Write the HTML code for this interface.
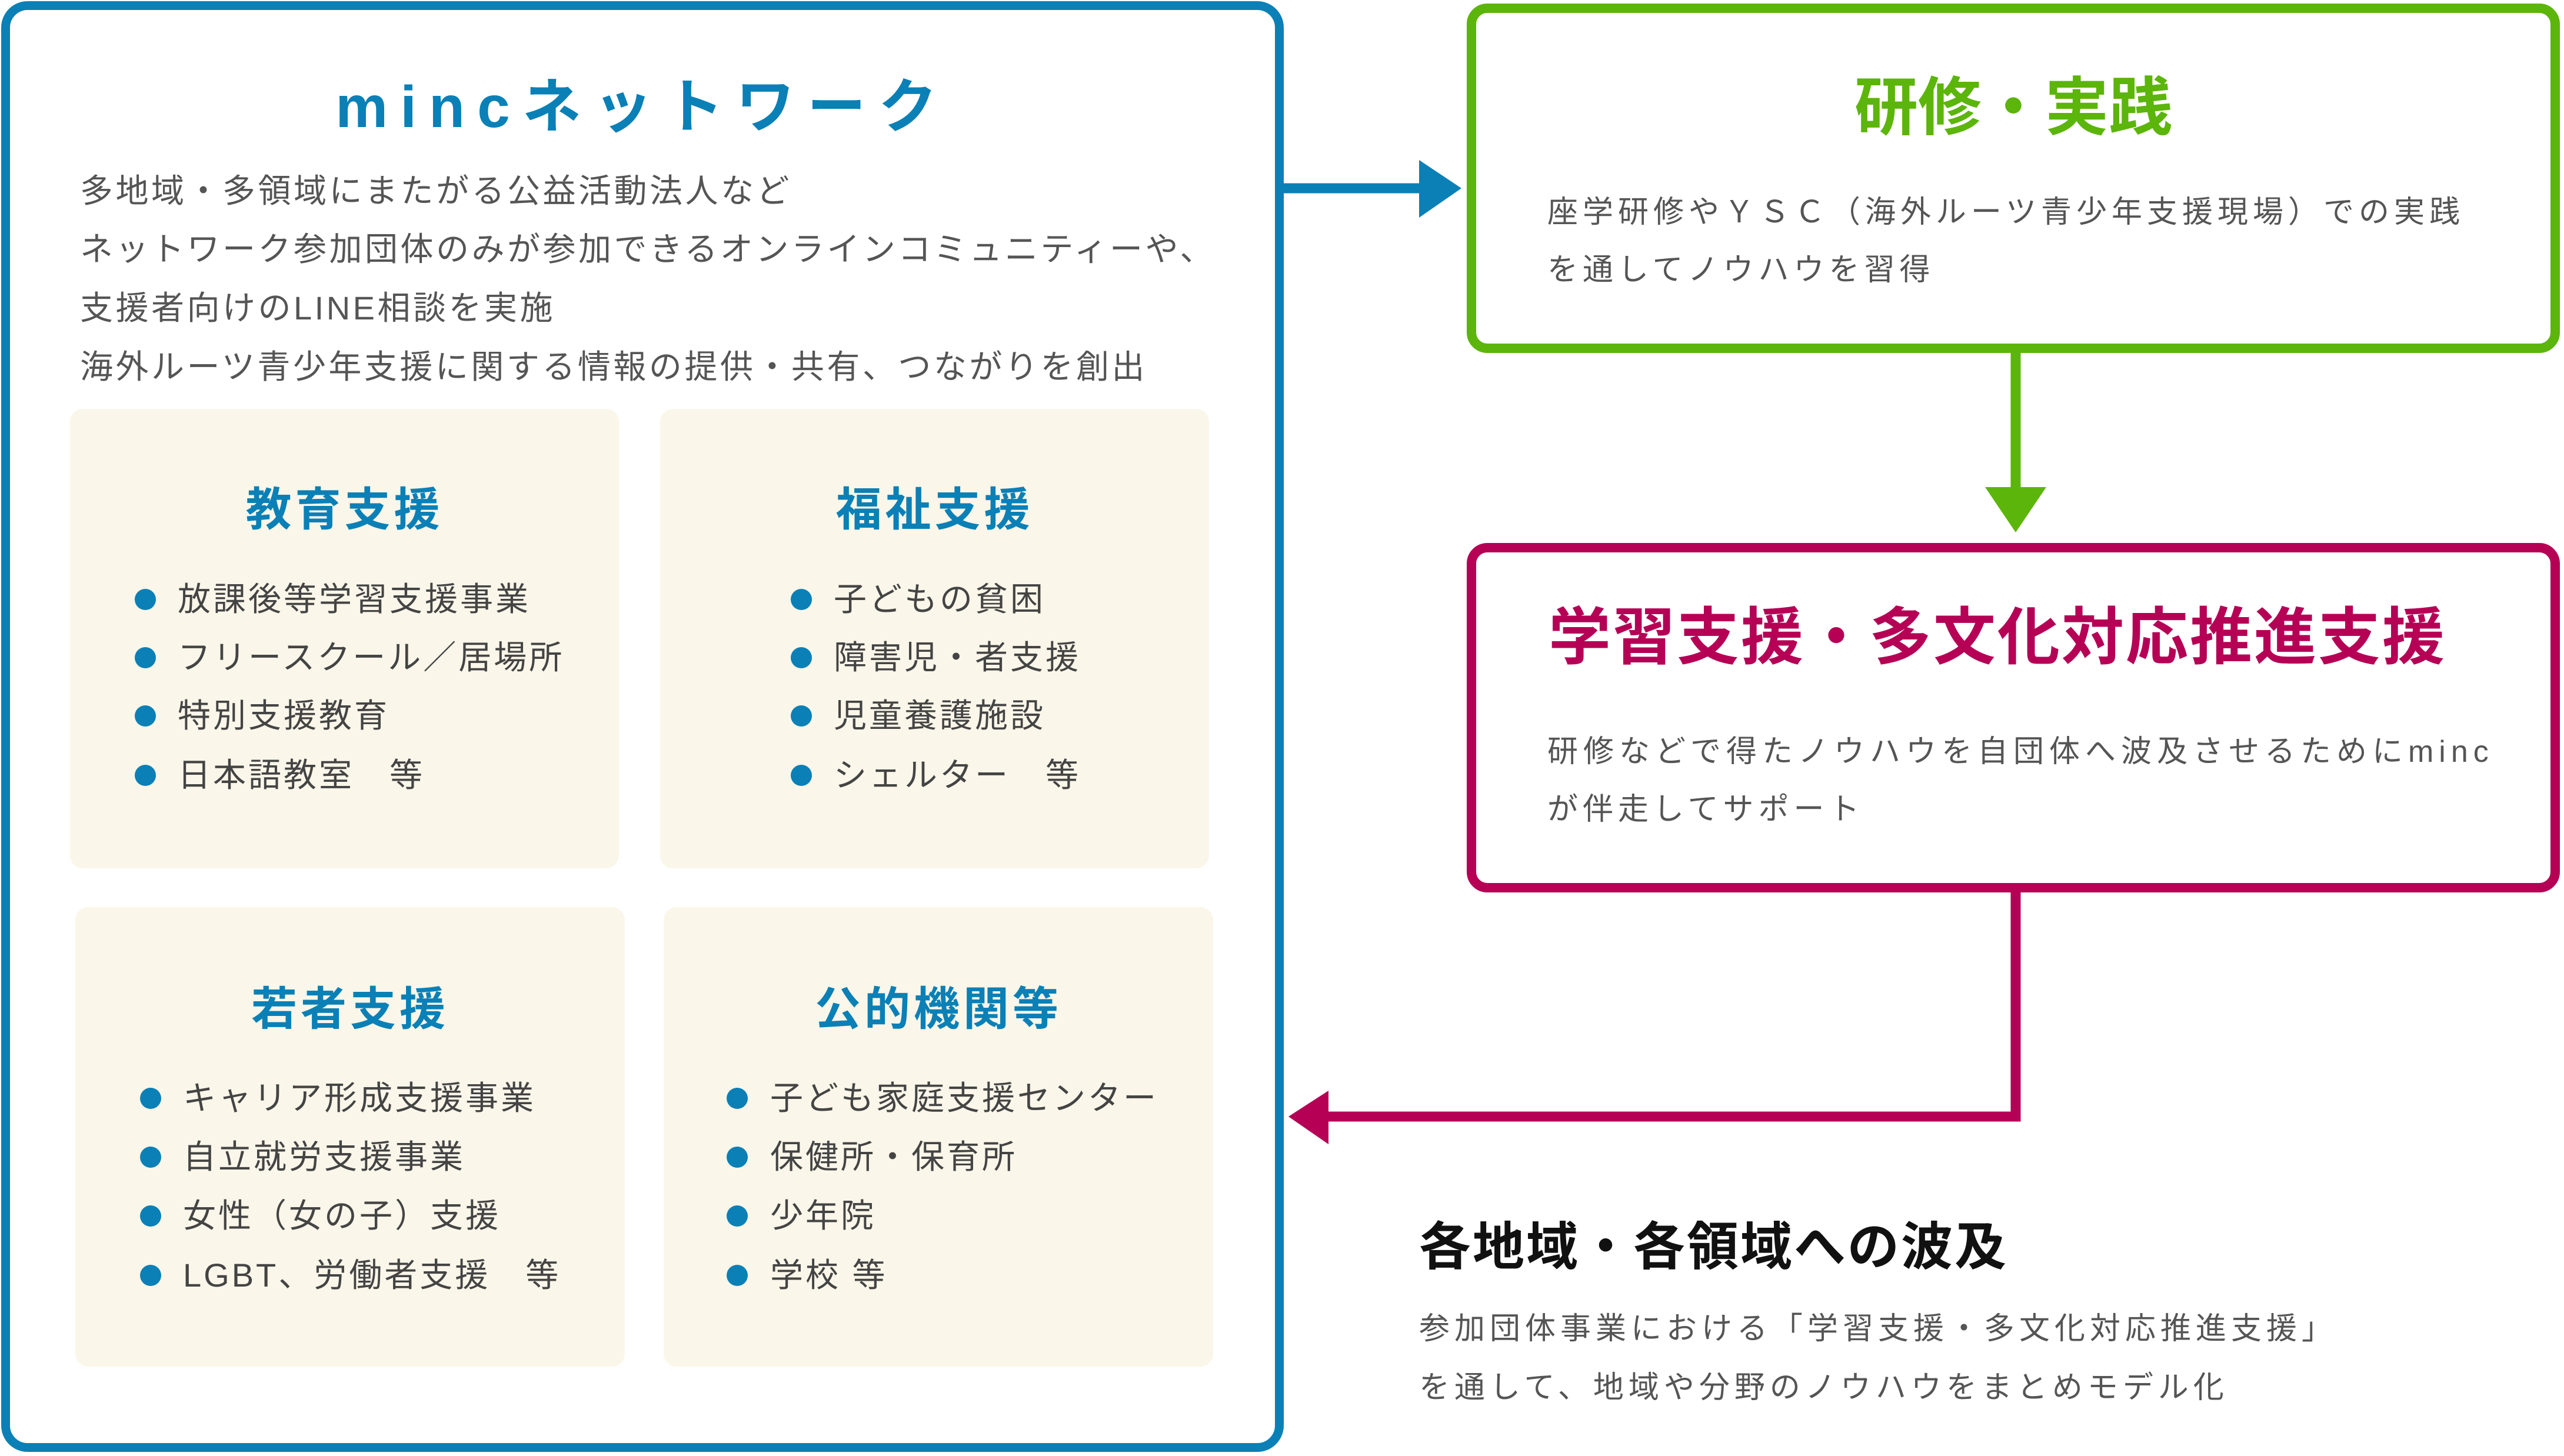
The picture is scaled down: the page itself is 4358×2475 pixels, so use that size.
<!DOCTYPE html>
<html><head><meta charset="utf-8"><style>
*{margin:0;padding:0;box-sizing:border-box}
body{width:4358px;height:2475px;background:#fff;position:relative;overflow:hidden;font-family:"Liberation Sans","Noto Sans CJK JP",sans-serif}
.a{position:absolute;white-space:nowrap}
.box{position:absolute;background:#fff}
.card{position:absolute;background:#faf6e9;border-radius:22px}
.ct{position:absolute;color:#0a80b6;font-weight:bold;font-size:78px;letter-spacing:6px;line-height:100px;text-align:center;white-space:nowrap}
.li{position:absolute;font-size:56px;letter-spacing:4px;color:#444;line-height:80px;white-space:nowrap}
.dot{position:absolute;width:36px;height:36px;border-radius:50%;background:#0a80b6}
.d{font-size:56px;color:#555;line-height:80px;letter-spacing:4.5px}
.g{font-size:52px;letter-spacing:8px;color:#555;line-height:80px}
</style></head><body>
<div class="box" style="left:2px;top:2px;width:2180px;height:2466px;border:15px solid #0a80b6;border-radius:45px"></div>
<div class="box" style="left:2493px;top:6px;width:1858px;height:594px;border:16px solid #5cb50a;border-radius:35px"></div>
<div class="box" style="left:2493px;top:923px;width:1858px;height:594px;border:16px solid #b50055;border-radius:35px"></div>

<svg class="a" style="left:0;top:0" width="4358" height="2475">
<line x1="2182" y1="320" x2="2430" y2="320" stroke="#0a80b6" stroke-width="17"/>
<polygon points="2412,272 2484,320 2412,370" fill="#0a80b6"/>
<line x1="3426" y1="600" x2="3426" y2="840" stroke="#5cb50a" stroke-width="17"/>
<polygon points="3374,828 3478,828 3426,905" fill="#5cb50a"/>
<polyline points="3426,1517 3426,1898 2240,1898" fill="none" stroke="#b50055" stroke-width="17"/>
<polygon points="2258,1854 2190,1898 2258,1945" fill="#b50055"/>
</svg>

<div class="a" style="left:0;width:2184px;top:122px;text-align:center;font-size:100px;line-height:120px;font-weight:bold;color:#0a80b6;letter-spacing:21px">mincネットワーク</div>
<div class="a d" style="left:136px;top:285px">多地域・多領域にまたがる公益活動法人など</div>
<div class="a d" style="left:136px;top:384px">ネットワーク参加団体のみが参加できるオンラインコミュニティーや、</div>
<div class="a d" style="left:136px;top:484px">支援者向けのLINE相談を実施</div>
<div class="a d" style="left:136px;top:584px">海外ルーツ青少年支援に関する情報の提供・共有、つながりを創出</div>

<div class="card" style="left:119px;top:695px;width:933px;height:781px"></div>
<div class="card" style="left:1122px;top:695px;width:933px;height:781px"></div>
<div class="card" style="left:128px;top:1542px;width:934px;height:781px"></div>
<div class="card" style="left:1128px;top:1542px;width:934px;height:781px"></div>

<div class="ct" style="left:119px;width:933px;top:816px">教育支援</div>
<div class="ct" style="left:1122px;width:933px;top:816px">福祉支援</div>
<div class="ct" style="left:128px;width:934px;top:1665px">若者支援</div>
<div class="ct" style="left:1128px;width:934px;top:1665px">公的機関等</div>

<div class="dot" style="left:229px;top:1001px"></div><div class="li" style="left:302px;top:979px">放課後等学習支援事業</div>
<div class="dot" style="left:229px;top:1100px"></div><div class="li" style="left:302px;top:1078px">フリースクール／居場所</div>
<div class="dot" style="left:229px;top:1199px"></div><div class="li" style="left:302px;top:1177px">特別支援教育</div>
<div class="dot" style="left:229px;top:1300px"></div><div class="li" style="left:302px;top:1278px">日本語教室　等</div>

<div class="dot" style="left:1344px;top:1001px"></div><div class="li" style="left:1417px;top:979px">子どもの貧困</div>
<div class="dot" style="left:1344px;top:1100px"></div><div class="li" style="left:1417px;top:1078px">障害児・者支援</div>
<div class="dot" style="left:1344px;top:1199px"></div><div class="li" style="left:1417px;top:1177px">児童養護施設</div>
<div class="dot" style="left:1344px;top:1300px"></div><div class="li" style="left:1417px;top:1278px">シェルター　等</div>

<div class="dot" style="left:238px;top:1849px"></div><div class="li" style="left:311px;top:1827px">キャリア形成支援事業</div>
<div class="dot" style="left:238px;top:1949px"></div><div class="li" style="left:311px;top:1927px">自立就労支援事業</div>
<div class="dot" style="left:238px;top:2049px"></div><div class="li" style="left:311px;top:2027px">女性（女の子）支援</div>
<div class="dot" style="left:238px;top:2150px"></div><div class="li" style="left:311px;top:2128px">LGBT、労働者支援　等</div>

<div class="dot" style="left:1235px;top:1849px"></div><div class="li" style="left:1309px;top:1827px">子ども家庭支援センター</div>
<div class="dot" style="left:1235px;top:1949px"></div><div class="li" style="left:1309px;top:1927px">保健所・保育所</div>
<div class="dot" style="left:1235px;top:2049px"></div><div class="li" style="left:1309px;top:2027px">少年院</div>
<div class="dot" style="left:1235px;top:2150px"></div><div class="li" style="left:1309px;top:2128px">学校 等</div>

<div class="a" style="left:2493px;width:1858px;top:123px;text-align:center;font-size:108px;line-height:120px;font-weight:bold;color:#5cb50a">研修・実践</div>
<div class="a g" style="left:2630px;top:321px">座学研修やＹＳＣ（海外ルーツ青少年支援現場）での実践</div>
<div class="a g" style="left:2630px;top:419px">を通してノウハウを習得</div>

<div class="a" style="left:2632px;top:1019px;font-size:106px;line-height:130px;font-weight:bold;color:#b50055;letter-spacing:3px">学習支援・多文化対応推進支援</div>
<div class="a g" style="left:2630px;top:1238px;letter-spacing:9px">研修などで得たノウハウを自団体へ波及させるためにminc</div>
<div class="a g" style="left:2630px;top:1336px">が伴走してサポート</div>

<div class="a" style="left:2412px;top:2065px;font-size:88px;line-height:110px;font-weight:bold;color:#111;letter-spacing:3px">各地域・各領域への波及</div>
<div class="a g" style="left:2412px;top:2219px;letter-spacing:8px">参加団体事業における「学習支援・多文化対応推進支援」</div>
<div class="a g" style="left:2412px;top:2319px;letter-spacing:8px">を通して、地域や分野のノウハウをまとめモデル化</div>
</body></html>
